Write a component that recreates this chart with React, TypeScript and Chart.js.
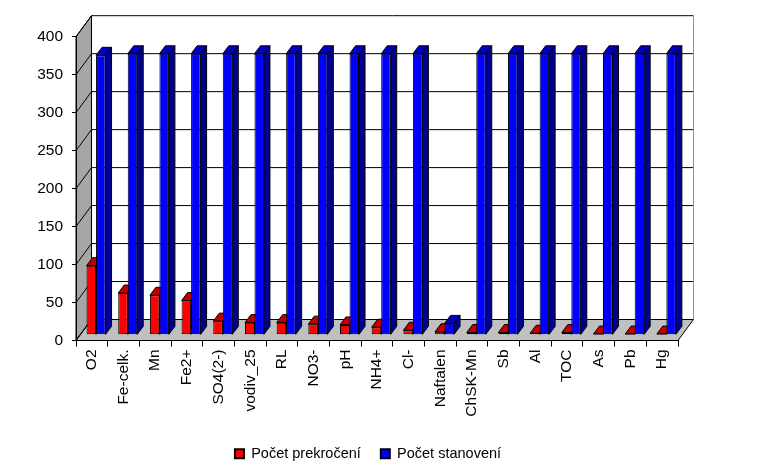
import React, { useEffect, useRef } from 'react';
import { Chart, registerables } from 'chart.js';

Chart.register(...registerables);

// ---- data ----
const categories = ['O2', 'Fe-celk.', 'Mn', 'Fe2+', 'SO4(2-)', 'vodiv_25', 'RL', 'NO3-', 'pH', 'NH4+', 'Cl-', 'Naftalen', 'ChSK-Mn', 'Sb', 'Al', 'TOC', 'As', 'Pb', 'Hg'];
const pocetPrekroceni = [91, 55, 52, 45, 18, 16, 16, 14, 13, 10, 6, 4, 3, 3, 2, 3, 1, 1, 1];
const pocetStanoveni = [368, 370, 370, 370, 370, 370, 370, 370, 370, 370, 370, 15, 370, 370, 370, 370, 370, 370, 370];
const seriesLabels = ['Počet prekročení', 'Počet stanovení'];
const yMin = 0;
const yMax = 400;
const yStep = 50;

// ---- styling ----
const FONT = '"Liberation Sans", Arial, sans-serif';
const WALL = { dx: 15.5, dy: -21 };
const SHIFT = { dx: 4.2, dy: -5.7 };
const BDEPTH = { dx: 6, dy: -8 };
const faceColors = [
  { front: '#FF0000', top: '#C00000', side: '#900000' },
  { front: '#0000FF', top: '#0000C0', side: '#000090' },
];

function poly(ctx: CanvasRenderingContext2D, pts: number[][], fill: string | null, stroke: string | null) {
  ctx.beginPath();
  ctx.moveTo(pts[0][0], pts[0][1]);
  for (let i = 1; i < pts.length; i++) ctx.lineTo(pts[i][0], pts[i][1]);
  ctx.closePath();
  if (fill) {
    ctx.fillStyle = fill;
    ctx.fill();
  }
  if (stroke) {
    ctx.strokeStyle = stroke;
    ctx.stroke();
  }
}

const threeDPlugin = {
  id: 'threeD',
  beforeDraw(chart: any) {
    const { ctx, chartArea: a, scales } = chart;
    const ys = scales.y;
    const L = a.left;
    const R = a.right;
    const yTop = ys.getPixelForValue(yMax);
    const y0 = ys.getPixelForValue(yMin);
    const { dx, dy } = WALL;
    ctx.save();
    ctx.lineWidth = 1;
    // back wall
    ctx.fillStyle = '#ffffff';
    ctx.fillRect(L + dx, yTop + dy, R - L, y0 - yTop);
    // left wall
    poly(ctx, [[L, yTop], [L + dx, yTop + dy], [L + dx, y0 + dy], [L, y0]], '#A6A6A6', '#000');
    // floor
    poly(ctx, [[L, y0], [R, y0], [R + dx, y0 + dy], [L + dx, y0 + dy]], '#C0C0C0', '#000');
    // gridlines
    ctx.strokeStyle = '#000';
    for (let v = yMin; v <= yMax; v += yStep) {
      const yy = ys.getPixelForValue(v);
      ctx.beginPath();
      ctx.moveTo(L, yy);
      ctx.lineTo(L + dx, yy + dy);
      ctx.lineTo(R + dx, yy + dy);
      ctx.stroke();
    }
    // back wall right edge
    ctx.strokeStyle = '#909090';
    ctx.beginPath();
    ctx.moveTo(R + dx, yTop + dy);
    ctx.lineTo(R + dx, y0 + dy);
    ctx.stroke();
    ctx.restore();
  },
  beforeDatasetsDraw(chart: any) {
    const ctx = chart.ctx;
    ctx.save();
    ctx.translate(SHIFT.dx, SHIFT.dy);
    ctx.lineWidth = 1;
    for (let di = 0; di < chart.data.datasets.length; di++) {
      const meta = chart.getDatasetMeta(di);
      const c = faceColors[di];
      meta.data.forEach((el: any) => {
        const { x, y, base, width } = el.getProps(['x', 'y', 'base', 'width'], true);
        const l = x - width / 2;
        const r = x + width / 2;
        const top = Math.min(y, base);
        const bot = Math.max(y, base);
        poly(ctx, [[l, top], [r, top], [r + BDEPTH.dx, top + BDEPTH.dy], [l + BDEPTH.dx, top + BDEPTH.dy]], c.top, '#000');
        poly(ctx, [[r, top], [r + BDEPTH.dx, top + BDEPTH.dy], [r + BDEPTH.dx, bot + BDEPTH.dy], [r, bot]], c.side, '#000');
      });
    }
  },
  afterDatasetsDraw(chart: any) {
    chart.ctx.restore();
  },
};

export default function App() {
  const canvasRef = useRef<HTMLCanvasElement | null>(null);

  useEffect(() => {
    if (!canvasRef.current) return;
    const chart = new Chart(canvasRef.current, {
      type: 'bar',
      data: {
        labels: categories,
        datasets: [
          {
            label: seriesLabels[0],
            data: pocetPrekroceni,
            backgroundColor: faceColors[0].front,
            borderColor: '#000',
            borderWidth: 1,
            borderSkipped: false,
            categoryPercentage: 0.6,
            barPercentage: 1,
            clip: false,
          } as any,
          {
            label: seriesLabels[1],
            data: pocetStanoveni,
            backgroundColor: faceColors[1].front,
            borderColor: '#000',
            borderWidth: 1,
            borderSkipped: false,
            categoryPercentage: 0.6,
            barPercentage: 1,
            clip: false,
          } as any,
        ],
      },
      options: {
        animation: false,
        responsive: false,
        devicePixelRatio: 1,
        layout: { padding: { left: 0, right: 41, top: 36.7, bottom: 0 } },
        scales: {
          x: {
            type: 'category',
            offset: true,
            grid: { offset: true, drawOnChartArea: false, drawTicks: true, tickLength: 6, color: '#000', lineWidth: 1 },
            border: { display: true, color: '#000', width: 1 },
            ticks: { color: '#000', font: { family: FONT, size: 15.5 }, minRotation: 90, maxRotation: 90, autoSkip: false, padding: 3 },
            afterFit: (s: any) => { s.height = 86; },
          },
          y: {
            type: 'linear',
            min: yMin,
            max: yMax,
            ticks: { stepSize: yStep, color: '#000', font: { family: FONT, size: 15.5 }, padding: 9 },
            grid: { drawOnChartArea: false, drawTicks: true, tickLength: 4, color: '#000' },
            border: { display: true, color: '#000' },
            afterFit: (s: any) => { s.width = 76; },
          },
          yR: {
            type: 'linear',
            position: 'right',
            display: true,
            ticks: { display: false },
            grid: { display: false },
            border: { display: false },
            afterFit: (s: any) => { s.width = 58; },
          },
        } as any,
        plugins: {
          tooltip: { enabled: false },
          legend: {
            position: 'bottom',
            fullSize: true,
            labels: {
              boxWidth: 9,
              boxHeight: 9,
              padding: 20,
              color: '#000',
              font: { family: FONT, size: 14.5 },
              generateLabels: (ch: any) =>
                (Chart.defaults.plugins.legend.labels.generateLabels as any)(ch).map((it: any) => ({ ...it, lineWidth: 2, strokeStyle: '#000' })),
            },
          },
        },
      },
      plugins: [threeDPlugin],
    });
    return () => chart.destroy();
  }, []);

  return (
    <div style={{ position: 'fixed', left: 0, top: 0, width: 777, height: 471, background: '#fff' }}>
      <canvas ref={canvasRef} width={777} height={471} style={{ display: 'block' }} />
    </div>
  );
}
